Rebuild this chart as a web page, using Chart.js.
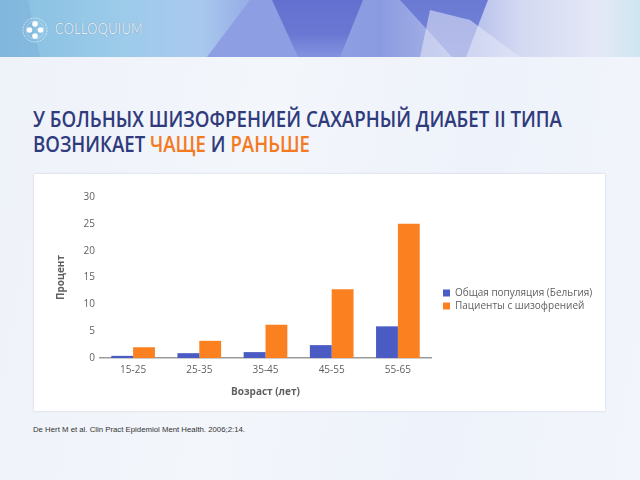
<!DOCTYPE html>
<html>
<head>
<meta charset="utf-8">
<script src="https://cdn.jsdelivr.net/npm/chart.js@4"></script>
<style>
  html, body { margin: 0; padding: 0; }
  body { width: 640px; height: 480px; position: relative; overflow: hidden;
    background: linear-gradient(100deg, #eef2f9 0%, #f3f6fb 40%, #eef2fa 70%, #f2f5fb 100%);
    font-family: "Open Sans", sans-serif; }
  #header { position: absolute; left: 0; top: 0; width: 640px; height: 57px; overflow: hidden;
    background: linear-gradient(90deg, #86bfe0 0px, #9ccbea 120px, #a9c9ee 200px, #93a6e4 260px, #8b9be0 380px, #a9b4e8 450px, #d3d9f2 520px, #e4e8f6 600px, #cfe6f1 640px); }
  .poly { position: absolute; left: 0; top: 0; width: 640px; height: 57px; }
  #p1 { background: linear-gradient(180deg, #6470cf 0%, #6a78d3 60%, #8392e0 100%); clip-path: polygon(272px 0, 363px 0, 340px 57px, 298px 57px); }
  #p2 { background: #8d9fe2; clip-path: polygon(207px 57px, 250px 0, 272px 0, 298px 57px); }
  #p3 { background: linear-gradient(180deg, #6a7ad4 0%, #7585d8 100%); clip-path: polygon(400px 0, 488px 0, 466px 57px, 452px 57px); }
  #p4 { background: rgba(230,234,248,0.55); clip-path: polygon(430px 10px, 470px 20px, 520px 57px, 420px 57px); }
  #p5 { background: rgba(120,170,215,0.35); clip-path: polygon(0 0, 28px 0, 40px 57px, 0 57px); }
  #logo { position: absolute; left: 21px; top: 15px; width: 28px; height: 30px; }
  #brand { position: absolute; left: 55px; top: 18px; font-family: Lato, sans-serif; font-weight: 300;
    font-size: 15px; line-height: 20px; color: #ffffff; letter-spacing: 0.5px; white-space: nowrap;
    text-shadow: 0 0 1px rgba(70,90,130,0.7); transform-origin: left center; }
  .title { position: absolute; left: 33px; font-family: "Open Sans", sans-serif; font-weight: 600;
    font-size: 21px; line-height: 25px; color: #2f3b7c; white-space: nowrap; transform-origin: left center; }
  .title .hl { color: #f47a1f; }
  #t1 { top: 107px; }
  #t2 { top: 132px; }
  #panel { position: absolute; left: 34px; top: 174px; width: 571px; height: 237px; background: #ffffff;
    box-shadow: 0 0 2px rgba(120,130,150,0.35); }
  #cite { position: absolute; left: 33px; top: 425px; font-family: "Liberation Sans", Arial, sans-serif;
    font-size: 7px; line-height: 10px; color: #333; white-space: nowrap; transform-origin: left center; }
</style>
</head>
<body>
<div id="header">
  <div class="poly" id="p5"></div>
  <div class="poly" id="p2"></div>
  <div class="poly" id="p1"></div>
  <div class="poly" id="p3"></div>
  <div class="poly" id="p4"></div>
  <svg id="logo" viewBox="0 0 28 30">
    <circle cx="14" cy="15" r="12" fill="none" stroke="rgba(255,255,255,0.75)" stroke-width="0.8" stroke-dasharray="2 1"/>
    <circle cx="14" cy="15" r="9" fill="none" stroke="rgba(230,240,250,0.6)" stroke-width="0.7"/>
    <circle cx="14" cy="9" r="2.8" fill="#ffffff"/>
    <circle cx="8.5" cy="15" r="2.8" fill="#ffffff"/>
    <circle cx="19.5" cy="15" r="2.8" fill="#ffffff"/>
    <circle cx="14" cy="21" r="2.8" fill="#ffffff"/>
  </svg>
  <div id="brand" data-w="88">COLLOQUIUM</div>
</div>

<div class="title" id="t1" data-w="529">У БОЛЬНЫХ ШИЗОФРЕНИЕЙ САХАРНЫЙ ДИАБЕТ II ТИПА</div>
<div class="title" id="t2" data-w="277">ВОЗНИКАЕТ <span class="hl">ЧАЩЕ</span> И <span class="hl">РАНЬШЕ</span></div>

<div id="panel"><canvas id="c" width="571" height="237"></canvas></div>

<div id="cite" data-w="212">De Hert M et al. Clin Pract Epidemiol Ment Health. 2006;2:14.</div>

<script>
// ---- data ----
const categories = ["15-25", "25-35", "35-45", "45-55", "55-65"];
const generalPopulation = [0.4, 0.9, 1.1, 2.4, 5.9];
const schizophreniaPatients = [2.0, 3.2, 6.2, 12.8, 25.0];
const seriesLabels = ["Общая популяция (Бельгия)", "Пациенты с шизофренией"];
const yTicks = [0, 5, 10, 15, 20, 25, 30];
const yTitle = "Процент";
const xTitle = "Возраст (лет)";

function fitTexts() {
  document.querySelectorAll('[data-w]').forEach(el => {
    el.style.transform = 'none';
    const target = parseFloat(el.dataset.w);
    const w = el.getBoundingClientRect().width;
    if (w > 0) el.style.transform = 'scaleX(' + (target / w) + ')';
  });
}

const textColor = '#5f5f5f';
const fam = '"Open Sans", sans-serif';
const LEGEND_WIDTH = 174;  // legend box width (layout)
const LEGEND_GAP = 9;      // extra gap between plot and legend items

const legendGap = {
  id: 'legendGap',
  afterLayout(chart) {
    const l = chart.legend;
    if (l) { l.left += LEGEND_GAP; l.right += LEGEND_GAP; }
  }
};

function draw() {
  fitTexts();
  const chart = new Chart(document.getElementById('c'), {
    type: 'bar',
    data: {
      labels: categories,
      datasets: [
        { label: seriesLabels[0], data: generalPopulation, backgroundColor: '#4a5cc4',
          categoryPercentage: 0.66, barPercentage: 1.0 },
        { label: seriesLabels[1], data: schizophreniaPatients, backgroundColor: '#fb8020',
          categoryPercentage: 0.66, barPercentage: 1.0 }
      ]
    },
    plugins: [legendGap],
    options: {
      responsive: false,
      animation: false,
      devicePixelRatio: 1,
      layout: { padding: { left: 17, top: 23, bottom: 9, right: 0 } },
      plugins: {
        tooltip: { enabled: false },
        legend: {
          position: 'right',
          align: 'center',
          maxWidth: LEGEND_WIDTH,
          labels: { boxWidth: 7, boxHeight: 7, padding: 3, color: textColor,
            font: { family: fam, size: 10 } }
        }
      },
      scales: {
        x: {
          grid: { display: false, drawTicks: false },
          border: { display: true, color: '#9b9b9b', width: 1.5 },
          ticks: { color: textColor, font: { family: fam, size: 10 }, padding: 6 },
          title: { display: true, text: xTitle, color: textColor,
            font: { family: fam, size: 10, weight: 'bold' }, padding: { top: 4, bottom: 4 } }
        },
        y: {
          min: 0, max: 30,
          afterBuildTicks: s => { s.ticks = yTicks.map(v => ({ value: v })); },
          afterFit: s => { s.width = 49; },
          grid: { display: false, drawTicks: false },
          border: { display: false },
          ticks: { color: textColor, font: { family: fam, size: 10 }, padding: 5 },
          title: { display: true, text: yTitle, color: textColor,
            font: { family: fam, size: 10, weight: 'bold' }, padding: { top: 4, bottom: 4 } }
        }
      }
    }
  });
  const lg = chart.legend;
  if (lg) {
    const origFit = lg.fit;
    lg.fit = function () { origFit.call(this); this.width = LEGEND_WIDTH; };
    chart.update();
  }
}

Promise.all([
  document.fonts.load('10px "Open Sans"', 'Общая'),
  document.fonts.load('bold 10px "Open Sans"', 'Процент'),
  document.fonts.load('600 21px "Open Sans"', 'ВОЗ'),
  document.fonts.load('300 15px Lato', 'C'),
  document.fonts.load('7px "Liberation Sans"', 'D')
]).then(draw, draw);
</script>
</body>
</html>
